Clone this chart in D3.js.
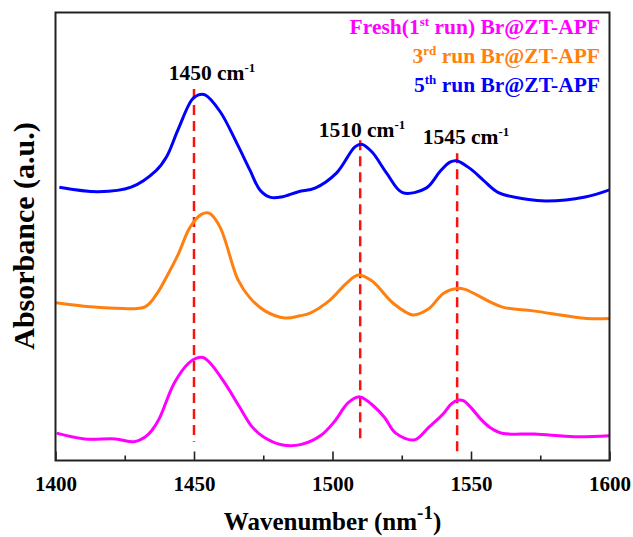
<!DOCTYPE html>
<html>
<head>
<meta charset="utf-8">
<script src="https://cdn.jsdelivr.net/npm/d3@7"></script>
<style>
  html, body { margin: 0; padding: 0; background: #fff; }
  svg { display: block; }
  text { font-family: "Liberation Serif", "Times New Roman", serif; font-weight: bold; }
</style>
</head>
<body>
<svg id="chart" width="633" height="537"></svg>
<script>
// FTIR spectra of Br@ZT-APF after repeated runs (absorbance in arbitrary, offset units)
const freshWavenumber = [1400.4, 1410.5, 1421.7, 1428.3, 1432.5, 1434.9, 1437.5, 1442.8, 1448, 1450.7, 1453.3, 1455.9, 1461.2, 1466.4, 1471, 1475, 1481.6, 1488.8, 1496, 1500.7, 1505.7, 1509.9, 1515.1, 1518.8, 1522.8, 1529.6, 1534.9, 1540.1, 1542.8, 1545.4, 1547.4, 1550.7, 1553.3, 1556.6, 1561.2, 1573, 1587.5, 1600];
const freshAbsorbance = [6.1, 4.8, 4.8, 4.2, 5.3, 6.8, 9.4, 17.2, 21.7, 22.8, 23.0, 21.7, 17.2, 12.0, 7.5, 5.3, 3.5, 3.6, 5.7, 8.7, 12.9, 14.2, 12.0, 9.6, 6.1, 4.6, 7.5, 10.5, 12.6, 13.5, 13.3, 11.3, 9.4, 7.5, 6.1, 5.9, 5.3, 5.5];

const run3Wavenumber = [1400.2, 1412.5, 1421.5, 1432.3, 1437, 1439.5, 1444.2, 1448.6, 1452.8, 1455.5, 1459.4, 1465.9, 1470.2, 1475.6, 1482.8, 1488.3, 1491.9, 1499.1, 1505.1, 1509.3, 1514.2, 1521.9, 1529, 1534.6, 1540, 1544.8, 1547.8, 1561.1, 1572.5, 1591.8, 1600];
const run3Absorbance = [35.2, 34.3, 34.0, 34.3, 37.6, 40.3, 45.9, 52.1, 55.0, 55.2, 52.1, 40.3, 36.3, 33.4, 31.8, 32.3, 32.9, 35.8, 39.6, 41.4, 40.1, 35.1, 32.5, 33.8, 37.3, 38.4, 38.2, 34.3, 33.4, 31.7, 31.7];

const run5Wavenumber = [1401.4, 1415.5, 1427.3, 1436.3, 1440.1, 1444.2, 1449.2, 1451.6, 1454, 1459.4, 1465.4, 1470.2, 1473.8, 1477.4, 1481.4, 1487.7, 1493.7, 1501.5, 1508.1, 1510.5, 1514.2, 1519.6, 1525.3, 1533.8, 1538.8, 1542.4, 1544.8, 1549.6, 1554.4, 1559.9, 1570.1, 1577.3, 1591.2, 1600];
const run5Absorbance = [61.0, 60.0, 61.0, 64.7, 67.8, 73.8, 80.5, 81.6, 81.6, 77.9, 70.9, 64.8, 60.4, 58.8, 58.8, 60.0, 60.8, 64.2, 70.0, 70.6, 68.9, 64.1, 59.8, 60.8, 64.5, 66.6, 66.9, 65.2, 62.6, 59.8, 58.3, 57.9, 58.8, 60.4];

const seriesColors = ["#ff00ff", "#ff7f0f", "#0000ff"];

// Characteristic bands: position, dashed guide extent (absorbance units)
const peakWavenumbers = [1450, 1510, 1545];
const peakGuideTop = [82.9, 71.5, 68.6];
const peakGuideBottom = [4.2, 3.7, 1.2];

const xTicks = [1400, 1450, 1500, 1550, 1600];
const xMinorTicks = [1425, 1475, 1525, 1575];

const svg = d3.select("#chart");
const margin = { left: 55.5, right: 23.5, top: 12.5, bottom: 76.5 };
const W = 633, H = 537;
const x = d3.scaleLinear().domain([1400, 1600]).range([margin.left, W - margin.right]);
const y = d3.scaleLinear().domain([0, 100]).range([H - margin.bottom, margin.top]);

const plot = svg.append("g");

// dashed peak guides (drawn beneath the spectra)
peakWavenumbers.forEach((p, i) => {
  plot.append("line")
    .attr("x1", x(p)).attr("x2", x(p))
    .attr("y1", y(peakGuideTop[i])).attr("y2", y(peakGuideBottom[i]))
    .attr("stroke", "#ff1010").attr("stroke-width", 2.5)
    .attr("stroke-dasharray", "10,6");
});

const line = d3.line()
  .x(d => x(d[0])).y(d => y(d[1]))
  .curve(d3.curveCatmullRom.alpha(0.5));

const series = [
  d3.zip(freshWavenumber, freshAbsorbance),
  d3.zip(run3Wavenumber, run3Absorbance),
  d3.zip(run5Wavenumber, run5Absorbance)
];

series.forEach((s, i) => {
  plot.append("path")
    .datum(s)
    .attr("d", line)
    .attr("fill", "none")
    .attr("stroke", seriesColors[i])
    .attr("stroke-width", 3)
    .attr("stroke-linejoin", "round");
});

// axis: ticks pointing inward
const xAxis = d3.axisBottom(x).tickValues(xTicks).tickSize(-9).tickPadding(16).tickFormat(d3.format("d"));
const gx = svg.append("g").attr("transform", `translate(0,${y(0)})`).call(xAxis);
gx.select(".domain").remove();
gx.selectAll(".tick line").attr("stroke", "#222").attr("stroke-width", 1.6);
gx.selectAll(".tick text").attr("font-size", 21).attr("fill", "#000").attr("dy", "0.71em")
  .style("font-family", "'Liberation Serif', serif").style("font-weight", "bold");

const gxm = svg.append("g").attr("transform", `translate(0,${y(0)})`)
  .call(d3.axisBottom(x).tickValues(xMinorTicks).tickSize(-5).tickFormat(""));
gxm.select(".domain").remove();
gxm.selectAll(".tick line").attr("stroke", "#222").attr("stroke-width", 1.6);

// frame
svg.append("rect")
  .attr("x", margin.left).attr("y", margin.top)
  .attr("width", W - margin.left - margin.right)
  .attr("height", H - margin.top - margin.bottom)
  .attr("fill", "none").attr("stroke", "#222").attr("stroke-width", 2);

// legend text, right aligned
const legendBaselines = [34, 63, 92];
const legendParts = [
  [["Fresh(1", 0], ["st", 1], [" run) Br@ZT-APF", 0]],
  [["3", 0], ["rd", 1], [" run Br@ZT-APF", 0]],
  [["5", 0], ["th", 1], [" run Br@ZT-APF", 0]]
];
legendParts.forEach((parts, i) => {
  const t = svg.append("text")
    .attr("x", 600).attr("y", legendBaselines[i])
    .attr("text-anchor", "end")
    .attr("font-size", 21.5)
    .attr("fill", seriesColors[i]);
  let raised = false;
  parts.forEach(([str, sup]) => {
    const ts = t.append("tspan").text(str);
    if (sup) { ts.attr("font-size", 13).attr("dy", -8); raised = true; }
    else if (raised) { ts.attr("dy", 8); raised = false; }
  });
});

// peak labels
const peakLabelX = [212, 362, 466];
const peakLabelY = [80, 137, 144];
peakWavenumbers.forEach((p, i) => {
  const t = svg.append("text")
    .attr("x", peakLabelX[i]).attr("y", peakLabelY[i])
    .attr("text-anchor", "middle")
    .attr("font-size", 21.5).attr("fill", "#000");
  t.append("tspan").text(p + " cm");
  t.append("tspan").text("-1").attr("font-size", 13).attr("dy", -8);
});

// axis titles
const xt = svg.append("text")
  .attr("x", (margin.left + W - margin.right) / 2).attr("y", 530)
  .attr("text-anchor", "middle").attr("font-size", 25).attr("fill", "#000");
xt.append("tspan").text("Wavenumber (nm");
xt.append("tspan").text("-1").attr("font-size", 19).attr("dy", -11);
xt.append("tspan").text(")").attr("dy", 11);

svg.append("text")
  .attr("transform", "translate(34,236) rotate(-90)")
  .attr("text-anchor", "middle").attr("font-size", 30).attr("fill", "#000")
  .text("Absorbance (a.u.)");
</script>
</body>
</html>
